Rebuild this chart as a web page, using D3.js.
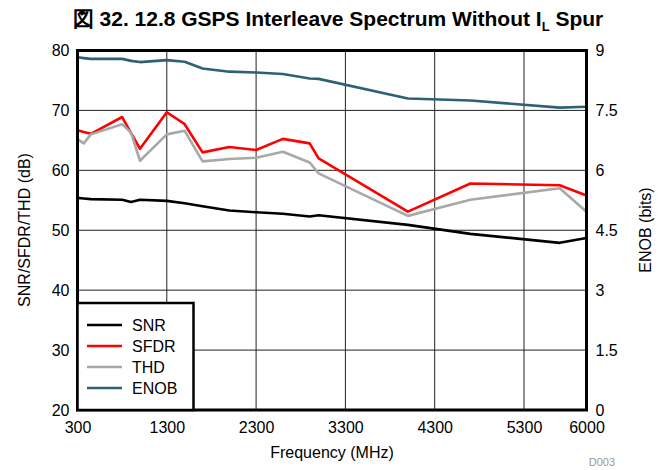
<!DOCTYPE html>
<html><head><meta charset="utf-8">
<script src="https://cdn.jsdelivr.net/npm/d3@7/dist/d3.min.js"></script>
<style>body{margin:0;background:#fff;} text{font-family:"Liberation Sans",Arial,sans-serif;}</style>
</head><body>
<svg id="c" width="661" height="470"></svg>
<script>
const freq = [300, 370, 450, 800, 900, 1000, 1300, 1500, 1700, 2000, 2300, 2600, 2900, 3000, 4000, 4700, 5700, 6000];
const snr  = [55.4, 55.3, 55.2, 55.1, 54.7, 55.1, 54.9, 54.5, 54.0, 53.3, 53.0, 52.75, 52.3, 52.5, 50.9, 49.4, 47.9, 48.7];
const sfdr = [66.7, 66.4, 66.1, 68.9, 66.2, 63.6, 69.7, 67.7, 63.0, 63.9, 63.4, 65.25, 64.5, 62.0, 53.1, 57.8, 57.5, 55.8];
const thd  = [65.2, 64.5, 66.0, 67.7, 66.3, 61.6, 66.0, 66.6, 61.5, 61.9, 62.1, 63.1, 61.3, 59.5, 52.4, 55.1, 57.0, 53.1];
const enob = [8.83, 8.81, 8.79, 8.79, 8.74, 8.71, 8.76, 8.72, 8.55, 8.47, 8.45, 8.41, 8.30, 8.29, 7.80, 7.75, 7.57, 7.59];
const xTicks = [300, 1300, 2300, 3300, 4300, 5300, 6000];
const yTicks = [20, 30, 40, 50, 60, 70, 80];
const y2Ticks = [0, 1.5, 3, 4.5, 6, 7.5, 9];
const seriesNames = ["SNR", "SFDR", "THD", "ENOB"];
const seriesColors = ["#000000", "#ff0000", "#a8a8a8", "#2f6176"];

const svg = d3.select("#c");
const L = 77.5, R = 586.5, T = 50.5, B = 410;
const x = d3.scaleLinear().domain([300, 6000]).range([L, R]);
const y = d3.scaleLinear().domain([20, 80]).range([B, T]);
const y2 = d3.scaleLinear().domain([0, 9]).range([B, T]);

// title
const title = svg.append("text").attr("x", 338).attr("y", 26).attr("text-anchor", "middle")
  .attr("font-size", 21).attr("font-weight", "bold");
title.append("tspan").text("図 32. 12.8 GSPS Interleave Spectrum Without I");
title.append("tspan").attr("font-size", 13).attr("dy", 5).text("L");
title.append("tspan").attr("dy", -5).text(" Spur");

// grid
const g = svg.append("g");
g.selectAll(".vg").data(xTicks.slice(1, -1)).enter().append("line")
  .attr("x1", d => x(d)).attr("x2", d => x(d)).attr("y1", T).attr("y2", B)
  .attr("stroke", "#222").attr("stroke-width", 1);
g.selectAll(".hg").data(yTicks.slice(1, -1)).enter().append("line")
  .attr("x1", L).attr("x2", R).attr("y1", d => y(d)).attr("y2", d => y(d))
  .attr("stroke", "#222").attr("stroke-width", 1);

// axes (labels only)
const fs = 16;
const ax = svg.append("g").attr("transform", `translate(0,${B})`)
  .call(d3.axisBottom(x).tickValues(xTicks).tickSize(0).tickPadding(12).tickFormat(d3.format("d")));
ax.select(".domain").remove();
ax.selectAll("text").attr("font-size", fs).attr("font-family", "Liberation Sans, Arial, sans-serif").attr("fill", "#000");
const ayl = svg.append("g").attr("transform", `translate(${L},0)`)
  .call(d3.axisLeft(y).tickValues(yTicks).tickSize(0).tickPadding(8).tickFormat(d3.format("d")));
ayl.select(".domain").remove();
ayl.selectAll("text").attr("font-size", fs).attr("font-family", "Liberation Sans, Arial, sans-serif").attr("fill", "#000");
const ayr = svg.append("g").attr("transform", `translate(${R},0)`)
  .call(d3.axisRight(y2).tickValues(y2Ticks).tickSize(0).tickPadding(9).tickFormat(d => d));
ayr.select(".domain").remove();
ayr.selectAll("text").attr("font-size", fs).attr("font-family", "Liberation Sans, Arial, sans-serif").attr("fill", "#000");

// axis titles
svg.append("text").attr("x", 332).attr("y", 458).attr("text-anchor", "middle").attr("font-size", fs).text("Frequency (MHz)");
svg.append("text").attr("transform", "translate(30,230) rotate(-90)").attr("text-anchor", "middle").attr("font-size", fs).text("SNR/SFDR/THD (dB)");
svg.append("text").attr("transform", "translate(651,230) rotate(-90)").attr("text-anchor", "middle").attr("font-size", fs).text("ENOB (bits)");
svg.append("text").attr("x", 615).attr("y", 466).attr("text-anchor", "end").attr("font-size", 11).attr("fill", "#999").text("D003");

// series
const dataSets = [snr, sfdr, thd, enob];
dataSets.forEach((vals, i) => {
  const sc = i === 3 ? y2 : y;
  const line = d3.line().x((d, j) => x(freq[j])).y(d => sc(d));
  svg.append("path").datum(vals).attr("d", line).attr("fill", "none")
    .attr("stroke", seriesColors[i]).attr("stroke-width", 2.6).attr("stroke-linejoin", "round");
});

// plot border
svg.append("rect").attr("x", L).attr("y", T).attr("width", R - L).attr("height", B - T)
  .attr("fill", "none").attr("stroke", "#000").attr("stroke-width", 3);

// legend
const lg = svg.append("g");
lg.append("rect").attr("x", L).attr("y", 303).attr("width", 116).attr("height", B - 303)
  .attr("fill", "#fff").attr("stroke", "#000").attr("stroke-width", 2.5);
seriesNames.forEach((n, i) => {
  const yy = 325 + i * 21;
  lg.append("line").attr("x1", 87).attr("x2", 122).attr("y1", yy).attr("y2", yy)
    .attr("stroke", seriesColors[i]).attr("stroke-width", 2.6);
  lg.append("text").attr("x", 132).attr("y", yy + 6).attr("font-size", fs).text(n);
});
</script>
</body></html>
